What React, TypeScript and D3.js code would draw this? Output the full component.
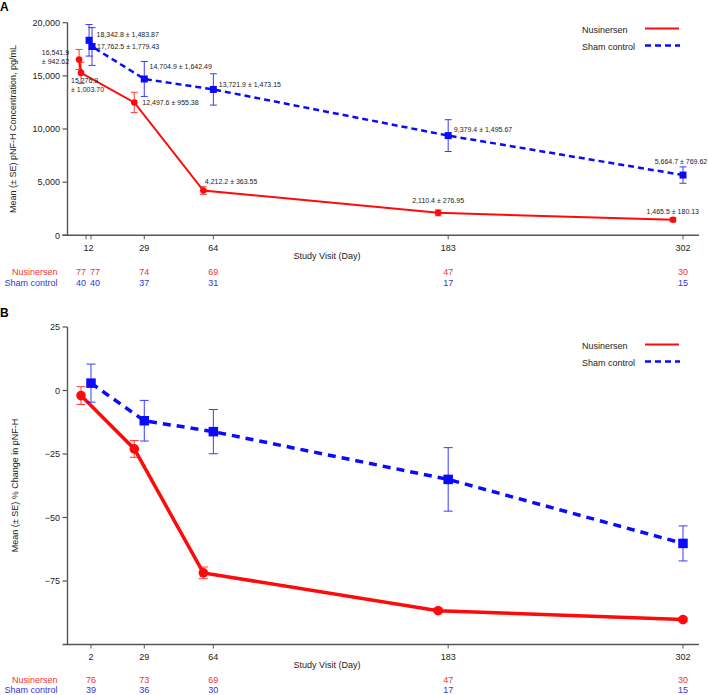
import React from "react";
import * as d3 from "d3";

// ---------- DATA ----------
// Panel A: pNF-H concentration (pg/mL)
const topTickDays = [-0.5, 2, 29, 64, 183, 302]; // plotting position of each visit
const topTickLabels = ["12", "", "29", "64", "183", "302"];
const topNusMean = [16541.9, 15276.9, 12497.6, 4212.2, 2110.4, 1465.5];
const topNusSE = [942.62, 1003.7, 955.38, 363.55, 276.95, 180.13];
const topShamMean = [18342.8, 17762.5, 14704.9, 13721.9, 9379.4, 5664.7];
const topShamSE = [1483.87, 1779.43, 1642.49, 1473.15, 1495.67, 769.62];
const topNusN = ["77", "77", "74", "69", "47", "30"];
const topShamN = ["40", "40", "37", "31", "17", "15"];
const topYTicks = [0, 5000, 10000, 15000, 20000];

// Panel B: % change in pNF-H
const botDays = [2, 29, 64, 183, 302];
const botTickLabels = ["2", "29", "64", "183", "302"];
const botNusMean = [-2.0, -23.0, -71.8, -86.7, -90.2];
const botNusSE = [3.5, 3.3, 2.3, 0.8, 0.8];
const botShamMean = [2.9, -11.9, -16.2, -35.0, -60.2];
const botShamSE = [7.5, 8.0, 8.7, 12.5, 6.9];
const botNusN = ["76", "73", "69", "47", "30"];
const botShamN = ["39", "36", "30", "17", "15"];
const botYTicks = [-75, -50, -25, 0, 25];

// ---------- LAYOUT ----------
const RED = "#ff0a0a";
const BLUE = "#0a0aff";
const RED_TXT = "#f03333";
const BLUE_TXT = "#3333e0";
const AXIS = "#555";
const FONT = "'Liberation Sans', Arial, sans-serif";

// dodge of plotted points in px (nusinersen slightly left of visit)
const topNusDodge = [-7, -10, -10, -10, -10, -10];
const topShamDodge = [3, 1, 0, 0, 0, 0];
const botNusDodge = [-10, -10, -10, -10, 0];
const botShamDodge = [0, 0, 0, 0, 0];

// annotation offsets relative to marker [dx, dy, anchor]
const topNusLabelOff: [number, number, string][] = [
  [-10, -6.5, "end"],
  [-10, 7.5, "start"],
  [8, 0.5, "start"],
  [1.5, -9.5, "start"],
  [-26, -12, "start"],
  [-26.5, -8.7, "start"],
];
const topShamLabelOff: [number, number, string][] = [
  [7.5, -6, "start"],
  [5, 0.3, "start"],
  [5.3, -12.5, "start"],
  [5.4, -5.2, "start"],
  [5.7, -6.4, "start"],
  [-28.3, -14, "start"],
];

const x = d3.scaleLinear().domain([2, 302]).range([91, 683]);
const yTop = d3.scaleLinear().domain([0, 20000]).range([235.3, 22.7]);
const yBot = d3.scaleLinear().domain([-100, 25]).range([644.5, 327]);

const fmtMean = d3.format(",.1f");
const fmtSE = d3.format(",.2f");
const fmtTick = d3.format(",");

function Series({
  days, mean, se, dodge, y, color, width, dash, marker, size, cap,
}: any) {
  const pts = mean.map((m: number, i: number) => [x(days[i]) + dodge[i], y(m)]);
  const line = d3.line()(pts as [number, number][]) || "";
  return (
    <g>
      <path d={line} fill="none" stroke={color} strokeWidth={width} strokeDasharray={dash} />
      {mean.map((m: number, i: number) => {
        const px = pts[i][0];
        const y1 = y(m + se[i]);
        const y2 = y(m - se[i]);
        return (
          <g key={"e" + i} stroke={color} strokeWidth={1} opacity={0.8}>
            <line x1={px} x2={px} y1={y1} y2={y2} />
            <line x1={px - cap} x2={px + cap} y1={y1} y2={y1} />
            <line x1={px - cap} x2={px + cap} y1={y2} y2={y2} />
          </g>
        );
      })}
      {pts.map((p: number[], i: number) =>
        marker === "circle" ? (
          <circle key={"m" + i} cx={p[0]} cy={p[1]} r={size} fill={color} />
        ) : (
          <rect key={"m" + i} x={p[0] - size / 2} y={p[1] - size / 2} width={size} height={size} fill={color} />
        )
      )}
    </g>
  );
}

function Legend({ y0 }: { y0: number }) {
  return (
    <g fontFamily={FONT} fontSize={9} fill="#222">
      <text x={582} y={y0 + 3}>Nusinersen</text>
      <line x1={645} x2={679} y1={y0 - 1.5} y2={y0 - 1.5} stroke={RED} strokeWidth={2} />
      <text x={582} y={y0 + 20}>Sham control</text>
      <line x1={645} x2={680} y1={y0 + 15.5} y2={y0 + 15.5} stroke={BLUE} strokeWidth={2.5} strokeDasharray="6,4" />
    </g>
  );
}

export default function App() {
  return (
    <svg width={709} height={695} style={{ position: "absolute", left: 0, top: 0, background: "#fff" }}>
      <rect width={709} height={695} fill="#fff" />
      {/* Panel labels */}
      <text x={0} y={10.5} fontFamily={FONT} fontWeight="bold" fontSize={12}>A</text>
      <text x={0} y={316.5} fontFamily={FONT} fontWeight="bold" fontSize={12}>B</text>

      {/* ===== Panel A ===== */}
      <g>
        <line x1={67.5} x2={67.5} y1={yTop(20000)} y2={yTop(0)} stroke={AXIS} strokeWidth={1.4} />
        <line x1={62.5} x2={699} y1={yTop(0)} y2={yTop(0)} stroke={AXIS} strokeWidth={1.4} />
        {topYTicks.map((t) => (
          <g key={t}>
            <line x1={62.5} x2={67.5} y1={yTop(t)} y2={yTop(t)} stroke={AXIS} strokeWidth={1.2} />
            <text x={60} y={yTop(t) + 3.2} textAnchor="end" fontFamily={FONT} fontSize={9} fill="#222">
              {fmtTick(t)}
            </text>
          </g>
        ))}
        {topTickDays.map((d, i) => (
          <line key={i} x1={x(d)} x2={x(d)} y1={yTop(0)} y2={yTop(0) + 4} stroke={AXIS} strokeWidth={1} />
        ))}
        {topTickLabels.map((l, i) =>
          l ? (
            <text
              key={i}
              x={i === 0 ? (x(topTickDays[0]) + x(topTickDays[1])) / 2 : x(topTickDays[i])}
              y={250.5}
              textAnchor="middle"
              fontFamily={FONT}
              fontSize={9}
              fill="#222"
            >
              {l}
            </text>
          ) : null
        )}
        <text x={327} y={258.5} textAnchor="middle" fontFamily={FONT} fontSize={9} fill="#222">
          Study Visit (Day)
        </text>
        <text
          transform={`translate(16,129) rotate(-90)`}
          textAnchor="middle"
          fontFamily={FONT}
          fontSize={9}
          fill="#222"
        >
          Mean (± SE) pNF-H Concentration, pg/mL
        </text>
        {/* N rows */}
        <text x={57.5} y={274.5} textAnchor="end" fontFamily={FONT} fontSize={9} fill={RED_TXT}>Nusinersen</text>
        <text x={57.5} y={286} textAnchor="end" fontFamily={FONT} fontSize={9} fill={BLUE_TXT}>Sham control</text>
        {topNusN.map((n, i) => {
          const mid = (x(topTickDays[0]) + x(topTickDays[1])) / 2;
          const props =
            i === 0
              ? { x: mid - 2.5, textAnchor: "end" }
              : i === 1
              ? { x: mid + 1.5, textAnchor: "start" }
              : { x: x(topTickDays[i]), textAnchor: "middle" };
          return (
            <g key={i} fontFamily={FONT} fontSize={9}>
              <text {...(props as any)} y={274.5} fill={RED_TXT}>{n}</text>
              <text {...(props as any)} y={286} fill={BLUE_TXT}>{topShamN[i]}</text>
            </g>
          );
        })}

        <Series days={topTickDays} mean={topNusMean} se={topNusSE} dodge={topNusDodge} y={yTop}
          color={RED} width={2} marker="circle" size={3.3} cap={3.5} />
        <Series days={topTickDays} mean={topShamMean} se={topShamSE} dodge={topShamDodge} y={yTop}
          color={BLUE} width={2.5} dash="6,4" marker="square" size={7} cap={3.5} />

        {/* value annotations */}
        <g fontFamily={FONT} fontSize={7} fill="#222">
          {topNusMean.map((m, i) => {
            const px = x(topTickDays[i]) + topNusDodge[i];
            const py = yTop(m);
            const [dx, dy, anchor] = topNusLabelOff[i];
            if (i <= 1) {
              return (
                <text key={i} x={px + dx} y={py + dy + 2.5} textAnchor={anchor as any}>
                  <tspan x={px + dx}>{fmtMean(m)}</tspan>
                  <tspan x={px + dx} dy={8.8}>± {fmtSE(topNusSE[i])}</tspan>
                </text>
              );
            }
            return (
              <text key={i} x={px + dx} y={py + dy + 2.5} textAnchor={anchor as any}>
                {fmtMean(m)} ± {fmtSE(topNusSE[i])}
              </text>
            );
          })}
          {topShamMean.map((m, i) => {
            const px = x(topTickDays[i]) + topShamDodge[i];
            const py = yTop(m);
            const [dx, dy, anchor] = topShamLabelOff[i];
            return (
              <text key={i} x={px + dx} y={py + dy + 2.5} textAnchor={anchor as any}>
                {fmtMean(m)} ± {fmtSE(topShamSE[i])}
              </text>
            );
          })}
        </g>
        <Legend y0={30} />
      </g>

      {/* ===== Panel B ===== */}
      <g>
        <line x1={67.5} x2={67.5} y1={yBot(25)} y2={yBot(-100)} stroke={AXIS} strokeWidth={1.4} />
        <line x1={62.5} x2={699} y1={yBot(-100)} y2={yBot(-100)} stroke={AXIS} strokeWidth={1.4} />
        {botYTicks.map((t) => (
          <g key={t}>
            <line x1={62.5} x2={67.5} y1={yBot(t)} y2={yBot(t)} stroke={AXIS} strokeWidth={1.2} />
            <text x={60} y={yBot(t) + 3.2} textAnchor="end" fontFamily={FONT} fontSize={9} fill="#222">
              {t < 0 ? "\u2212" + Math.abs(t) : String(t)}
            </text>
          </g>
        ))}
        {botDays.map((d, i) => (
          <g key={i}>
            <line x1={x(d)} x2={x(d)} y1={yBot(-100)} y2={yBot(-100) + 4} stroke={AXIS} strokeWidth={1} />
            <text x={x(d)} y={660} textAnchor="middle" fontFamily={FONT} fontSize={9} fill="#222">
              {botTickLabels[i]}
            </text>
            <text x={x(d)} y={682.5} textAnchor="middle" fontFamily={FONT} fontSize={9} fill={RED_TXT}>
              {botNusN[i]}
            </text>
            <text x={x(d)} y={692.5} textAnchor="middle" fontFamily={FONT} fontSize={9} fill={BLUE_TXT}>
              {botShamN[i]}
            </text>
          </g>
        ))}
        <text x={327} y={667.5} textAnchor="middle" fontFamily={FONT} fontSize={9} fill="#222">
          Study Visit (Day)
        </text>
        <text x={57.5} y={682.5} textAnchor="end" fontFamily={FONT} fontSize={9} fill={RED_TXT}>Nusinersen</text>
        <text x={57.5} y={692.5} textAnchor="end" fontFamily={FONT} fontSize={9} fill={BLUE_TXT}>Sham control</text>
        <text
          transform={`translate(18,485.5) rotate(-90)`}
          textAnchor="middle"
          fontFamily={FONT}
          fontSize={9}
          fill="#222"
        >
          Mean (± SE) % Change in pNF-H
        </text>

        <Series days={botDays} mean={botNusMean} se={botNusSE} dodge={botNusDodge} y={yBot}
          color={RED} width={3.5} marker="circle" size={4.8} cap={4.5} />
        <Series days={botDays} mean={botShamMean} se={botShamSE} dodge={botShamDodge} y={yBot}
          color={BLUE} width={3.5} dash="8,6" marker="square" size={9.5} cap={4.5} />
        <Legend y0={346} />
      </g>
    </svg>
  );
}
